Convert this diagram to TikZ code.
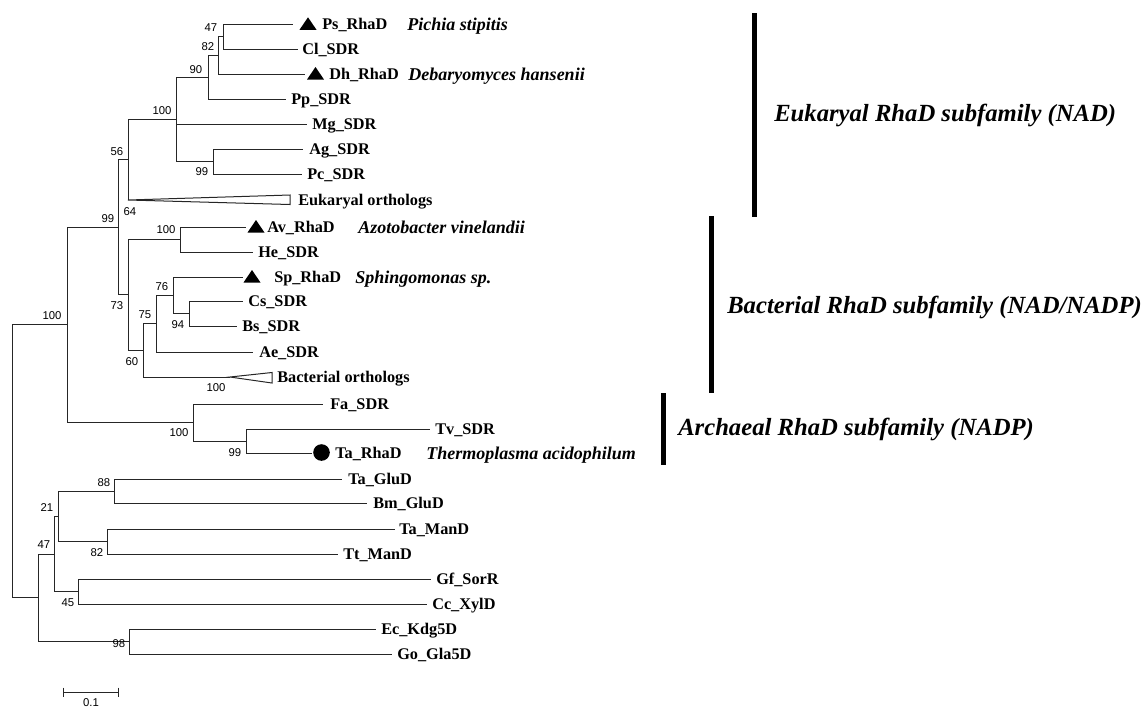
\documentclass[tikz,border=0pt]{standalone}
\usepackage{fontspec}
\setmainfont{Liberation Serif}
\newfontfamily\bootfont{Liberation Sans}
\newcommand\markertri[1]{\fill[black] (#1) ++(-8.5,0) -- ++(17,0) -- ++(-8.5,-12.5) -- cycle;}
\begin{document}
\begin{tikzpicture}[x=0.75pt,y=-0.75pt,
  branch/.style={draw=black!85,line width=0.75pt},
  leaf/.style={anchor=base west,inner sep=0pt,font=\bfseries\fontsize{12.2}{12.2}\selectfont},
  species/.style={anchor=base west,inner sep=0pt,font=\bfseries\itshape\fontsize{13.5}{13.5}\selectfont},
  boot/.style={inner sep=0pt,font=\bootfont\fontsize{8.5}{8.5}\selectfont},
  group/.style={anchor=base west,inner sep=0pt,font=\bfseries\itshape\fontsize{18.5}{18.5}\selectfont},
  groupbar/.style={draw=black,line width=3.75pt}]
\useasboundingbox (0,0) rectangle (1147,708);

% ---------- internal nodes ----------
\coordinate (n47a) at (223,36.7);
\coordinate (n82a) at (218,55.3);
\coordinate (n90) at (208,77.2);
\coordinate (n99a) at (213,161.5);
\coordinate (n100a) at (176,119.3);
\coordinate (n56) at (128,159.7);
\coordinate (n100b) at (180,239.5);
\coordinate (n94) at (189,313.5);
\coordinate (n76) at (173,295.3);
\coordinate (n75) at (156,323.6);
\coordinate (n60) at (143,350.3);
\coordinate (n73) at (128,294.9);
\coordinate (n99b) at (118,227.3);
\coordinate (n99c) at (246,441);
\coordinate (n100c) at (193,422.5);
\coordinate (n100d) at (67,324.9);
\coordinate (n88) at (114,491.2);
\coordinate (n82b) at (107,541.5);
\coordinate (n21) at (58,516.3);
\coordinate (n45) at (78,591.6);
\coordinate (n47b) at (54,554);
\coordinate (n98) at (129,641.6);
\coordinate (nout) at (38,597.8);
\coordinate (root) at (12,461.4);

% ---------- leaf branch ends ----------
\coordinate (Ps) at (293,24.3);
\coordinate (Cl) at (298,49);
\coordinate (Dh) at (305,74);
\coordinate (Pp) at (286,99);
\coordinate (Mg) at (307,124.5);
\coordinate (Ag) at (303,149);
\coordinate (Pc) at (302,174);
\coordinate (eo) at (128,200);
\coordinate (eoT) at (290,195);
\coordinate (eoB) at (290,204.5);
\coordinate (Av) at (246,227);
\coordinate (He) at (253,252);
\coordinate (Sp) at (243,277);
\coordinate (Cs) at (243,301);
\coordinate (Bs) at (237,326);
\coordinate (Ae) at (253,352);
\coordinate (bo) at (230,377);
\coordinate (boT) at (272,372.5);
\coordinate (boB) at (272,383);
\coordinate (Fa) at (323,404);
\coordinate (Tv) at (430,429);
\coordinate (TaR) at (312,453);
\coordinate (TaG) at (342,479);
\coordinate (Bm) at (367,503.5);
\coordinate (TaM) at (395,529);
\coordinate (Tt) at (338,554);
\coordinate (Gf) at (431,579);
\coordinate (Cc) at (427,604.3);
\coordinate (Ec) at (376,629.3);
\coordinate (Go) at (392,654);

% ---------- branches ----------
\draw[branch] (n47a) |- (Ps) (n47a) |- (Cl);
\draw[branch] (n82a) |- (n47a) (n82a) |- (Dh);
\draw[branch] (n90) |- (n82a) (n90) |- (Pp);
\draw[branch] (n99a) |- (Ag) (n99a) |- (Pc);
\draw[branch] (n100a) |- (n90) (n100a) |- (Mg) (n100a) |- (n99a);
\draw[branch] (n56) |- (n100a) (n56) |- (eo);
\draw[branch] (eo) -- (eoT) -- (eoB) -- cycle;
\draw[branch] (n100b) |- (Av) (n100b) |- (He);
\draw[branch] (n94) |- (Cs) (n94) |- (Bs);
\draw[branch] (n76) |- (Sp) (n76) |- (n94);
\draw[branch] (n75) |- (n76) (n75) |- (Ae);
\draw[branch] (n60) |- (n75) (n60) |- (bo);
\draw[branch] (bo) -- (boT) -- (boB) -- cycle;
\draw[branch] (n73) |- (n100b) (n73) |- (n60);
\draw[branch] (n99b) |- (n56) (n99b) |- (n73);
\draw[branch] (n99c) |- (Tv) (n99c) |- (TaR);
\draw[branch] (n100c) |- (Fa) (n100c) |- (n99c);
\draw[branch] (n100d) |- (n99b) (n100d) |- (n100c);
\draw[branch] (n88) |- (TaG) (n88) |- (Bm);
\draw[branch] (n82b) |- (TaM) (n82b) |- (Tt);
\draw[branch] (n21) |- (n88) (n21) |- (n82b);
\draw[branch] (n45) |- (Gf) (n45) |- (Cc);
\draw[branch] (n47b) |- (n21) (n47b) |- (n45);
\draw[branch] (n98) |- (Ec) (n98) |- (Go);
\draw[branch] (nout) |- (n47b) (nout) |- (n98);
\draw[branch] (root) |- (n100d) (root) |- (nout);

% ---------- leaf markers ----------
\coordinate (mPs) at (308,29.8);
\coordinate (mDh) at (315.5,79.5);
\coordinate (mAv) at (256,232.5);
\coordinate (mSp) at (252,282.5);
\markertri{mPs}
\markertri{mDh}
\markertri{mAv}
\markertri{mSp}
\fill[black] (321.5,452.5) circle[radius=8.3];

% ---------- leaf labels ----------
\node[leaf] (lPs) at (322,29.3) {Ps\_RhaD};
\node[leaf] (lCl) at (302,54) {Cl\_SDR};
\node[leaf] (lDh) at (329,79) {Dh\_RhaD};
\node[leaf] (lPp) at (291,104) {Pp\_SDR};
\node[leaf] (lMg) at (312,129.5) {Mg\_SDR};
\node[leaf] (lAg) at (309,154) {Ag\_SDR};
\node[leaf] (lPc) at (307,179) {Pc\_SDR};
\node[leaf] (leo) at (298,205) {Eukaryal orthologs};
\node[leaf] (lAv) at (267,232) {Av\_RhaD};
\node[leaf] (lHe) at (258,257) {He\_SDR};
\node[leaf] (lSp) at (274,282) {Sp\_RhaD};
\node[leaf] (lCs) at (248,306) {Cs\_SDR};
\node[leaf] (lBs) at (242,331) {Bs\_SDR};
\node[leaf] (lAe) at (259,357) {Ae\_SDR};
\node[leaf] (lbo) at (277,382) {Bacterial orthologs};
\node[leaf] (lFa) at (330,409) {Fa\_SDR};
\node[leaf] (lTv) at (435,434) {Tv\_SDR};
\node[leaf] (lTaR) at (335,458) {Ta\_RhaD};
\node[leaf] (lTaG) at (348,484) {Ta\_GluD};
\node[leaf] (lBm) at (373,508.5) {Bm\_GluD};
\node[leaf] (lTaM) at (399,534) {Ta\_ManD};
\node[leaf] (lTt) at (343,559) {Tt\_ManD};
\node[leaf] (lGf) at (436,584) {Gf\_SorR};
\node[leaf] (lCc) at (432,609.3) {Cc\_XylD};
\node[leaf] (lEc) at (381,634.3) {Ec\_Kdg5D};
\node[leaf] (lGo) at (397,659) {Go\_Gla5D};

% ---------- species names ----------
\node[species] (sPs) at (407,30) {Pichia stipitis};
\node[species] (sDh) at (408,80) {Debaryomyces hansenii};
\node[species] (sAv) at (358,233) {Azotobacter vinelandii};
\node[species] (sSp) at (355,283) {Sphingomonas sp.};
\node[species] (sTaR) at (426,459) {Thermoplasma acidophilum};

% ---------- bootstrap values ----------
\node[boot] (b47a) at (211,28) {47};
\node[boot] (b82a) at (208,47) {82};
\node[boot] (b90) at (196,70) {90};
\node[boot] (b100a) at (162,111) {100};
\node[boot] (b56) at (117,152) {56};
\node[boot] (b99a) at (202,172) {99};
\node[boot] (b64) at (130,212) {64};
\node[boot] (b99b) at (108,219) {99};
\node[boot] (b100b) at (166,230) {100};
\node[boot] (b76) at (162,287) {76};
\node[boot] (b73) at (117,306) {73};
\node[boot] (b75) at (145,315) {75};
\node[boot] (b94) at (178,325) {94};
\node[boot] (b60) at (132,362) {60};
\node[boot] (b100bo) at (216,388) {100};
\node[boot] (b100d) at (52,316) {100};
\node[boot] (b100c) at (179,433) {100};
\node[boot] (b99c) at (235,453) {99};
\node[boot] (b88) at (104,483) {88};
\node[boot] (b21) at (47,508) {21};
\node[boot] (b82b) at (97,553) {82};
\node[boot] (b47b) at (44,545) {47};
\node[boot] (b45) at (68,603) {45};
\node[boot] (b98) at (119,644) {98};

% ---------- subfamily brackets ----------
\coordinate (eukT) at (754,13);
\coordinate (eukB) at (754,217);
\coordinate (bacT) at (711,216);
\coordinate (bacB) at (711,393);
\coordinate (arcT) at (663,393);
\coordinate (arcB) at (663,465);
\draw[groupbar] (eukT) -- (eukB);
\draw[groupbar] (bacT) -- (bacB);
\draw[groupbar] (arcT) -- (arcB);
\node[group] (gEuk) at (774,121) {Eukaryal RhaD subfamily (NAD)};
\node[group] (gBac) at (727,313) {Bacterial RhaD subfamily (NAD/NADP)};
\node[group] (gArc) at (678,435) {Archaeal RhaD subfamily (NADP)};

% ---------- scale bar ----------
\coordinate (s0) at (63,692);
\coordinate (s1) at (118,692);
\draw[branch] (s0) -- (s1);
\draw[branch] (s0) ++(0,-4.5) -- ++(0,9);
\draw[branch] (s1) ++(0,-4.5) -- ++(0,9);
\node[boot] (sl) at (91,703) {0.1};
\end{tikzpicture}
\end{document}
